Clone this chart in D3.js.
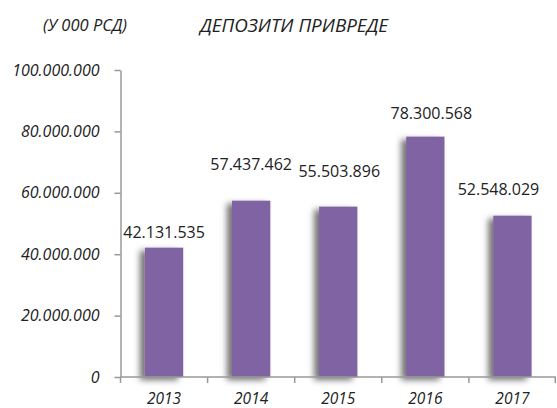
<!DOCTYPE html>
<html>
<head>
<meta charset="utf-8">
<script src="https://cdn.jsdelivr.net/npm/d3@7/dist/d3.min.js"></script>
<style>
  html, body { margin: 0; padding: 0; background: #fff; }
  svg { display: block; }
  text { font-family: "Open Sans", "Noto Sans", sans-serif; fill: #222; }
</style>
</head>
<body>
<svg id="chart" width="557" height="408"></svg>
<script>
// Company deposits by year, in thousands of dinars
const years = ["2013", "2014", "2015", "2016", "2017"];
const deposits = [42131535, 57437462, 55503896, 78300568, 52548029];
const yTicks = [0, 20000000, 40000000, 60000000, 80000000, 100000000];

// Hand-placed value labels: lift above bar top and horizontal nudge (px)
const labelLift = [15, 36, 35, 23, 26];
const labelNudge = [0, 0, 1, 6, -14];

const svg = d3.select("#chart");
const margin = { left: 120.5, right: 1, top: 70, bottom: 31 };
const W = 557, H = 408;

const x = d3.scaleBand()
  .domain(years)
  .range([margin.left, W - margin.right])
  .paddingInner(0.56)
  .paddingOuter(0.28);

const y = d3.scaleLinear()
  .domain([0, 100000000])
  .range([H - margin.bottom, margin.top]);

const fmt = v => d3.format(",")(v).replace(/,/g, ".");

// Soft shadow cast to the lower left of each bar
const defs = svg.append("defs");
const f = defs.append("filter").attr("id", "barShadow")
  .attr("x", "-50%").attr("y", "-20%").attr("width", "200%").attr("height", "140%");
f.append("feGaussianBlur").attr("in", "SourceAlpha").attr("stdDeviation", 3).attr("result", "b");
f.append("feOffset").attr("in", "b").attr("dx", -5).attr("dy", 3).attr("result", "o");
f.append("feFlood").attr("flood-color", "#000").attr("flood-opacity", 0.55).attr("result", "c");
f.append("feComposite").attr("in", "c").attr("in2", "o").attr("operator", "in").attr("result", "s");
const m = f.append("feMerge");
m.append("feMergeNode").attr("in", "s");
m.append("feMergeNode").attr("in", "SourceGraphic");

// Bars
svg.append("g").selectAll("rect")
  .data(deposits)
  .join("rect")
  .attr("x", (d, i) => x(years[i]))
  .attr("y", d => y(d))
  .attr("width", x.bandwidth())
  .attr("height", d => y(0) - y(d))
  .attr("fill", "#8064A2")
  .attr("filter", "url(#barShadow)");

// Y axis
const yAxis = svg.append("g")
  .attr("transform", `translate(${margin.left},0)`)
  .call(d3.axisLeft(y).tickValues(yTicks).tickFormat(fmt).tickSize(6).tickSizeOuter(0));
yAxis.attr("font-family", null).attr("font-size", null);
yAxis.select(".domain").attr("stroke", "#999").attr("stroke-width", 1.5);
yAxis.selectAll(".tick line").attr("stroke", "#999").attr("stroke-width", 1.5);
yAxis.selectAll(".tick text")
  .attr("x", -21)
  .style("font-size", "16px")
  .style("font-style", "italic")
  .attr("fill", "#222");

// X axis with ticks on category boundaries
const yBase = y(0);
const xg = svg.append("g");
xg.append("line")
  .attr("x1", margin.left).attr("x2", W - margin.right)
  .attr("y1", yBase).attr("y2", yBase)
  .attr("stroke", "#999").attr("stroke-width", 1.5);
const step = x.step();
const bounds = years.map((d, i) => margin.left + i * step).concat([W - margin.right - 0.75]);
xg.selectAll("line.tk")
  .data(bounds)
  .join("line")
  .attr("class", "tk")
  .attr("x1", d => d).attr("x2", d => d)
  .attr("y1", yBase).attr("y2", yBase + 6)
  .attr("stroke", "#999").attr("stroke-width", 1.5);
xg.selectAll("text")
  .data(years)
  .join("text")
  .attr("x", d => x(d) + x.bandwidth() / 2)
  .attr("y", yBase + 21.5)
  .attr("dy", "0.35em")
  .attr("text-anchor", "middle")
  .style("font-size", "15.5px")
  .style("font-style", "italic")
  .text(d => d);

// Value labels
svg.append("g").selectAll("text")
  .data(deposits)
  .join("text")
  .attr("x", (d, i) => x(years[i]) + x.bandwidth() / 2 + labelNudge[i])
  .attr("y", (d, i) => y(d) - labelLift[i])
  .attr("dy", "0.35em")
  .attr("text-anchor", "middle")
  .style("font-size", "16px")
  .text(d => fmt(d));

// Titles
svg.append("text")
  .attr("x", 85).attr("y", 25).attr("dy", "0.35em")
  .attr("text-anchor", "middle")
  .style("font-size", "16.5px")
  .style("font-style", "italic")
  .text("(У 000 РСД)");
svg.append("text")
  .attr("x", 294).attr("y", 25).attr("dy", "0.35em")
  .attr("text-anchor", "middle")
  .style("font-size", "18.8px")
  .style("font-style", "italic")
  .text("ДЕПОЗИТИ ПРИВРЕДЕ");
</script>
</body>
</html>
